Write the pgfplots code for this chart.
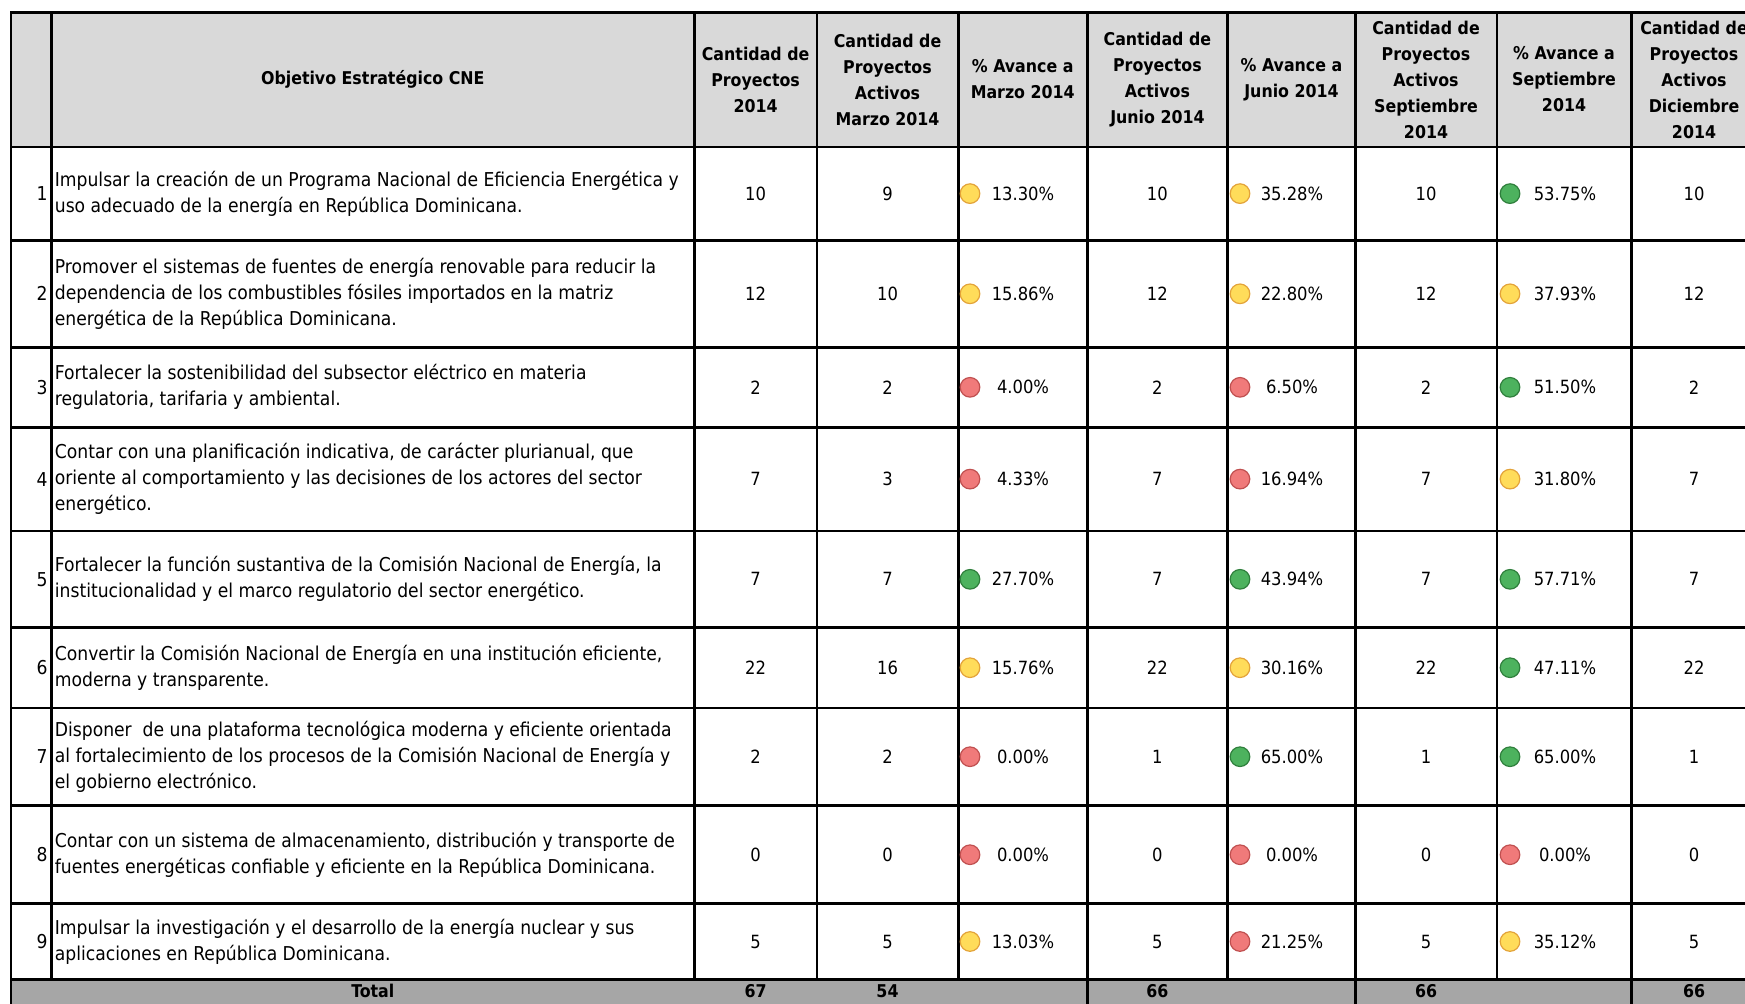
\documentclass[border=0pt]{standalone}
\usepackage{pgfplots}
\pgfplotsset{compat=1.18}
\usepackage{fontspec}
\setmainfont{DejaVu Sans Condensed}[BoldFont={DejaVu Sans Condensed Bold}]
\newcommand\bodyfont{\fontsize{9.55}{13}\selectfont}
\newcommand\numfont{\fontsize{9.1}{13}\selectfont}
\newcommand\headfont{\fontsize{8.8}{13}\selectfont\bfseries}
\definecolor{hdr}{HTML}{D9D9D9}
\definecolor{tot}{HTML}{A6A6A6}
\definecolor{yfill}{HTML}{FFDC5A}
\definecolor{ydraw}{HTML}{E3A33A}
\definecolor{rfill}{HTML}{F07A7A}
\definecolor{rdraw}{HTML}{C05050}
\definecolor{gfill}{HTML}{4DB25E}
\definecolor{gdraw}{HTML}{2F7F3C}
\begin{document}
\begin{tikzpicture}
\begin{axis}[width=872.5pt,height=501.5pt,scale only axis,
  xmin=0,xmax=1745,ymin=0,ymax=1003,y dir=reverse,hide axis,clip=true,
  numtxt/.style={draw=none,mark=none,nodes near coords,point meta=explicit symbolic,
    every node near coord/.style={anchor=center,inner sep=0pt,font=\numfont,text=black}},
  tottxt/.style={draw=none,mark=none,nodes near coords,point meta=explicit symbolic,
    every node near coord/.style={anchor=center,inner sep=0pt,font=\headfont,text=black}}]
% fills
\fill[hdr] (axis cs:11,12.2) rectangle (axis cs:1760,146.9);
\fill[tot] (axis cs:11,979.4) rectangle (axis cs:1760,1010);
% horizontal lines
\pgfplotsinvokeforeach{12.2,146.9,240.4,347.2,427.4,530.9,627.7,707.8,805.7,903.7,979.4}
  {\draw[line width=1.3pt] (axis cs:10.3,#1) -- (axis cs:1760,#1);}
% vertical lines
\draw[line width=1.3pt] (axis cs:11,11.5) -- (axis cs:11,1010);
\pgfplotsinvokeforeach{51.2,694.4,816.9,958.2,1087.3,1227.5,1355.5,1496.8,1631.5}
  {\draw[line width=1.3pt] (axis cs:#1,11.5) -- (axis cs:#1,980);}
\pgfplotsinvokeforeach{1087.3,1355.5,1631.5}
  {\draw[line width=1.3pt] (axis cs:#1,979) -- (axis cs:#1,1010);}
% header texts
\node[font=\headfont,align=center,inner sep=0pt] at (axis cs:372.8,79.5) {Objetivo Estratégico CNE};
\node[font=\headfont,align=center,inner sep=0pt] at (axis cs:755.6,79.5) {Cantidad de\\Proyectos\\2014};
\node[font=\headfont,align=center,inner sep=0pt] at (axis cs:887.5,79.5) {Cantidad de\\Proyectos\\Activos\\Marzo 2014};
\node[font=\headfont,align=center,inner sep=0pt] at (axis cs:1022.7,79.5) {\% Avance a\\Marzo 2014};
\node[font=\headfont,align=center,inner sep=0pt] at (axis cs:1157.4,79.5) {Cantidad de\\Proyectos\\Activos\\Junio 2014};
\node[font=\headfont,align=center,inner sep=0pt] at (axis cs:1291.5,79.5) {\% Avance a\\Junio 2014};
\node[font=\headfont,align=center,inner sep=0pt] at (axis cs:1426,79.5) {Cantidad de\\Proyectos\\Activos\\Septiembre\\2014};
\node[font=\headfont,align=center,inner sep=0pt] at (axis cs:1564,79.5) {\% Avance a\\Septiembre\\2014};
\node[font=\headfont,align=center,inner sep=0pt] at (axis cs:1694,79.5) {Cantidad de\\Proyectos\\Activos\\Diciembre\\2014};
% row numbers
\addplot[numtxt,every node near coord/.append style={anchor=east,font=\bodyfont}] coordinates {
(48,193.6)[1] (48,293.8)[2] (48,387.3)[3] (48,479.1)[4] (48,579.3)[5]
(48,667.7)[6] (48,756.7)[7] (48,854.7)[8] (48,941.5)[9]};
% descriptions
\node[anchor=west,align=left,inner sep=0pt,font=\bodyfont] at (axis cs:54.5,193.6) {Impulsar la creación de un Programa Nacional de Eficiencia Energética y\\uso adecuado de la energía en República Dominicana.};
\node[anchor=west,align=left,inner sep=0pt,font=\bodyfont] at (axis cs:54.5,293.8) {Promover el sistemas de fuentes de energía renovable para reducir la\\dependencia de los combustibles fósiles importados en la matriz\\energética de la República Dominicana.};
\node[anchor=west,align=left,inner sep=0pt,font=\bodyfont] at (axis cs:54.5,387.3) {Fortalecer la sostenibilidad del subsector eléctrico en materia\\regulatoria, tarifaria y ambiental.};
\node[anchor=west,align=left,inner sep=0pt,font=\bodyfont] at (axis cs:54.5,479.1) {Contar con una planificación indicativa, de carácter plurianual, que\\oriente al comportamiento y las decisiones de los actores del sector\\energético.};
\node[anchor=west,align=left,inner sep=0pt,font=\bodyfont] at (axis cs:54.5,579.3) {Fortalecer la función sustantiva de la Comisión Nacional de Energía, la\\institucionalidad y el marco regulatorio del sector energético.};
\node[anchor=west,align=left,inner sep=0pt,font=\bodyfont] at (axis cs:54.5,667.7) {Convertir la Comisión Nacional de Energía en una institución eficiente,\\moderna y transparente.};
\node[anchor=west,align=left,inner sep=0pt,font=\bodyfont] at (axis cs:54.5,756.7) {Disponer\ \ de una plataforma tecnológica moderna y eficiente orientada\\al fortalecimiento de los procesos de la Comisión Nacional de Energía y\\el gobierno electrónico.};
\node[anchor=west,align=left,inner sep=0pt,font=\bodyfont] at (axis cs:54.5,854.7) {Contar con un sistema de almacenamiento, distribución y transporte de\\fuentes energéticas confiable y eficiente en la República Dominicana.};
\node[anchor=west,align=left,inner sep=0pt,font=\bodyfont] at (axis cs:54.5,941.5) {Impulsar la investigación y el desarrollo de la energía nuclear y sus\\aplicaciones en República Dominicana.};
% Cantidad de Proyectos 2014
\addplot[numtxt] coordinates {(755.6,193.6)[10] (755.6,293.8)[12] (755.6,387.3)[2] (755.6,479.1)[7] (755.6,579.3)[7] (755.6,667.7)[22] (755.6,756.7)[2] (755.6,854.7)[0] (755.6,941.5)[5]};
% Activos Marzo
\addplot[numtxt] coordinates {(887.5,193.6)[9] (887.5,293.8)[10] (887.5,387.3)[2] (887.5,479.1)[3] (887.5,579.3)[7] (887.5,667.7)[16] (887.5,756.7)[2] (887.5,854.7)[0] (887.5,941.5)[5]};
% % Marzo
\addplot[numtxt] coordinates {(1023,193.6)[13.30\%] (1023,293.8)[15.86\%] (1023,387.3)[4.00\%] (1023,479.1)[4.33\%] (1023,579.3)[27.70\%] (1023,667.7)[15.76\%] (1023,756.7)[0.00\%] (1023,854.7)[0.00\%] (1023,941.5)[13.03\%]};
% Activos Junio
\addplot[numtxt] coordinates {(1157.4,193.6)[10] (1157.4,293.8)[12] (1157.4,387.3)[2] (1157.4,479.1)[7] (1157.4,579.3)[7] (1157.4,667.7)[22] (1157.4,756.7)[1] (1157.4,854.7)[0] (1157.4,941.5)[5]};
% % Junio
\addplot[numtxt] coordinates {(1292,193.6)[35.28\%] (1292,293.8)[22.80\%] (1292,387.3)[6.50\%] (1292,479.1)[16.94\%] (1292,579.3)[43.94\%] (1292,667.7)[30.16\%] (1292,756.7)[65.00\%] (1292,854.7)[0.00\%] (1292,941.5)[21.25\%]};
% Activos Septiembre
\addplot[numtxt] coordinates {(1426,193.6)[10] (1426,293.8)[12] (1426,387.3)[2] (1426,479.1)[7] (1426,579.3)[7] (1426,667.7)[22] (1426,756.7)[1] (1426,854.7)[0] (1426,941.5)[5]};
% % Septiembre
\addplot[numtxt] coordinates {(1565,193.6)[53.75\%] (1565,293.8)[37.93\%] (1565,387.3)[51.50\%] (1565,479.1)[31.80\%] (1565,579.3)[57.71\%] (1565,667.7)[47.11\%] (1565,756.7)[65.00\%] (1565,854.7)[0.00\%] (1565,941.5)[35.12\%]};
% Activos Diciembre
\addplot[numtxt] coordinates {(1694,193.6)[10] (1694,293.8)[12] (1694,387.3)[2] (1694,479.1)[7] (1694,579.3)[7] (1694,667.7)[22] (1694,756.7)[1] (1694,854.7)[0] (1694,941.5)[5]};
% totals
\addplot[tottxt] coordinates {(372.8,991)[Total] (755.6,991)[67] (887.5,991)[54] (1157.4,991)[66] (1426,991)[66] (1694,991)[66]};
% status dots
\addplot[only marks,mark=*,mark size=4.9pt,mark options={fill=yfill,draw=ydraw,line width=0.6pt}] coordinates {
(970,193.6) (970,293.8) (970,667.7) (970,941.5)
(1240,193.6) (1240,293.8) (1240,667.7)
(1510,293.8) (1510,479.1) (1510,941.5)};
\addplot[only marks,mark=*,mark size=4.9pt,mark options={fill=rfill,draw=rdraw,line width=0.6pt}] coordinates {
(970,387.3) (970,479.1) (970,756.7) (970,854.7)
(1240,387.3) (1240,479.1) (1240,854.7) (1240,941.5)
(1510,854.7)};
\addplot[only marks,mark=*,mark size=4.9pt,mark options={fill=gfill,draw=gdraw,line width=0.6pt}] coordinates {
(970,579.3)
(1240,579.3) (1240,756.7)
(1510,193.6) (1510,387.3) (1510,579.3) (1510,667.7) (1510,756.7)};
\end{axis}
\pgfresetboundingbox
\path[use as bounding box] (current axis.south west) rectangle (current axis.north east);
\end{tikzpicture}
\end{document}
